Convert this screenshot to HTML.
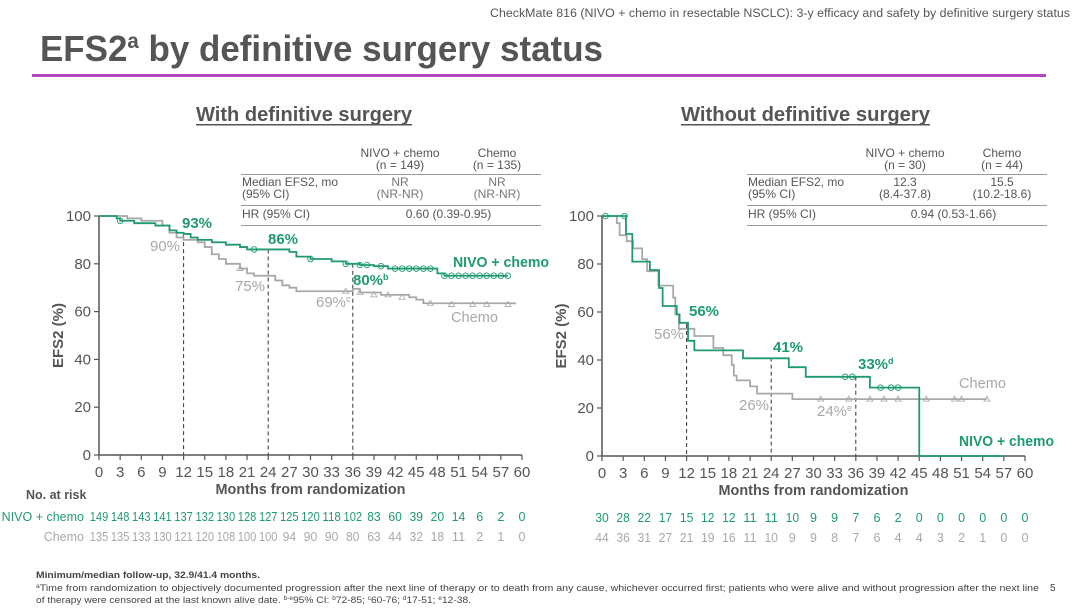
<!DOCTYPE html>
<html><head><meta charset="utf-8"><style>
html,body{margin:0;padding:0;background:#fff;}
svg{display:block;font-family:"Liberation Sans","DejaVu Sans",sans-serif;}
</style></head><body>
<svg id="s" width="1080" height="608" viewBox="0 0 1080 608" xmlns="http://www.w3.org/2000/svg">
<text x="1070" y="17" text-anchor="end" font-size="11.5" fill="#555" textLength="580" lengthAdjust="spacingAndGlyphs">CheckMate 816 (NIVO + chemo in resectable NSCLC): 3-y efficacy and safety by definitive surgery status</text>
<text x="40" y="61" font-size="36" font-weight="bold" fill="#555" textLength="563" lengthAdjust="spacingAndGlyphs">EFS2<tspan font-size="21" dy="-13">a</tspan><tspan dy="13"> by definitive surgery status</tspan></text>
<rect x="32" y="74" width="1014" height="3" fill="#b348c0"/>
<text x="196" y="121" font-size="20" font-weight="bold" fill="#555" textLength="216" lengthAdjust="spacingAndGlyphs">With definitive surgery</text>
<rect x="196" y="124" width="216" height="1.5" fill="#555"/>
<text x="681" y="121" font-size="20" font-weight="bold" fill="#555" textLength="249" lengthAdjust="spacingAndGlyphs">Without definitive surgery</text>
<rect x="681" y="124" width="249" height="1.5" fill="#555"/>
<g id="g"></g>
<text x="36" y="578" font-size="9.5" font-weight="bold" fill="#444" textLength="224" lengthAdjust="spacingAndGlyphs">Minimum/median follow-up, 32.9/41.4 months.</text>
<text x="36" y="591" font-size="9.5" fill="#444" textLength="1003" lengthAdjust="spacingAndGlyphs"><tspan font-size="6" dy="-3">a</tspan><tspan dy="3">Time from randomization to objectively documented progression after the next line of therapy or to death from any cause, whichever occurred first; patients who were alive and without progression after the next line</tspan></text>
<text x="36" y="603" font-size="9.5" fill="#444" textLength="435" lengthAdjust="spacingAndGlyphs">of therapy were censored at the last known alive date. <tspan font-size="6" dy="-3">b-e</tspan><tspan dy="3">95% CI: </tspan><tspan font-size="6" dy="-3">b</tspan><tspan dy="3">72-85; </tspan><tspan font-size="6" dy="-3">c</tspan><tspan dy="3">60-76; </tspan><tspan font-size="6" dy="-3">d</tspan><tspan dy="3">17-51; </tspan><tspan font-size="6" dy="-3">e</tspan><tspan dy="3">12-38.</tspan></text>
<text x="1050" y="591" font-size="10" fill="#444">5</text>
</svg>
<script>
var G='#1f9a70',GR='#a8a8a8',AX='#555';
var out='';
function T(x,y,t,o){o=o||{};out+='<text x="'+x+'" y="'+y+'" font-size="'+(o.fs||12)+'" fill="'+(o.c||AX)+'"'+(o.a?' text-anchor="'+o.a+'"':'')+(o.b?' font-weight="bold"':'')+(o.tl?' textLength="'+o.tl+'" lengthAdjust="spacingAndGlyphs"':'')+(o.tr?' transform="'+o.tr+'"':'')+'>'+t+'</text>';}
function L(x1,y1,x2,y2,c,w,d){out+='<line x1="'+x1+'" y1="'+y1+'" x2="'+x2+'" y2="'+y2+'" stroke="'+c+'" stroke-width="'+(w||1)+'"'+(d?' stroke-dasharray="'+d+'"':'')+'/>';}
function panel(x0,x1,y0,y1,nivo,chemo,cN,cC,dash,riskN,riskC,tab){
  var sx=function(m){return x0+(x1-x0)*m/60},sy=function(p){return y1-(y1-y0)*p/100};
  var tx=tab.x,tw=tab.w;
  T(tab.c1,157,'NIVO + chemo',{fs:12,a:'middle'});T(tab.c1,169,tab.n1,{fs:12,a:'middle'});
  T(tab.c2,157,'Chemo',{fs:12,a:'middle'});T(tab.c2,169,tab.n2,{fs:12,a:'middle'});
  L(tx,174.5,tx+tw,174.5,'#999',1);
  T(tx+1,186,'Median EFS2, mo',{fs:12});T(tx+1,198,'(95% CI)',{fs:12});
  T(tab.c1,186,tab.m1,{fs:12,a:'middle',c:tab.mc});T(tab.c1,198,tab.ci1,{fs:12,a:'middle',c:tab.mc});
  T(tab.c2,186,tab.m2,{fs:12,a:'middle',c:tab.mc});T(tab.c2,198,tab.ci2,{fs:12,a:'middle',c:tab.mc});
  L(tx,205.5,tx+tw,205.5,'#999',1);
  T(tx+1,218,'HR (95% CI)',{fs:12});T((tab.c1+tab.c2)/2,218,tab.hr,{fs:12,a:'middle'});
  L(tx,225.5,tx+tw,225.5,'#999',1);
  dash.forEach(function(d){L(sx(d[0]),sy(d[1]),sx(d[0]),y1,'#333',1,'4,3');});
  L(x0,y0,x0,y1,AX,1.5);L(x0,y1,x1,y1,AX,1.5);
  for(var p=0;p<=100;p+=20){L(x0-5,sy(p),x0,sy(p),AX,1.2);T(x0-8,sy(p)+5,p,{fs:15,a:'end'});}
  for(var m=0;m<=60;m+=3){L(sx(m),y1,sx(m),y1+5,AX,1.2);T(sx(m),y1+22,m,{fs:15,a:'middle'});}
  T((x0+x1)/2,y1+39,'Months from randomization',{fs:15,a:'middle',b:1,tl:190});
  T(x0-36,(y0+y1)/2,'EFS2 (%)',{fs:15,a:'middle',b:1,tr:'rotate(-90 '+(x0-36)+' '+((y0+y1)/2)+')'});
  function step(pts,c){var d='M'+sx(pts[0][0])+','+sy(pts[0][1]);for(var i=1;i<pts.length;i++){d+=' H'+sx(pts[i][0])+' V'+sy(pts[i][1]);}
    out+='<path d="'+d+'" fill="none" stroke="'+c+'" stroke-width="1.8"/>';}
  step(chemo,GR);step(nivo,G);
  cC.forEach(function(q){out+='<path d="M'+(sx(q[0])-3)+','+(sy(q[1])+2)+' l3,-5 l3,5z" fill="none" stroke="'+GR+'" stroke-width="0.8"/>';});
  cN.forEach(function(q){out+='<circle cx="'+sx(q[0])+'" cy="'+sy(q[1])+'" r="2.8" fill="none" stroke="'+G+'" stroke-width="0.9"/>';});
  function rk(v,i,y,c){var s=String(v);T(sx(i*3),y,s,{fs:12.5,a:'middle',c:c,tl:s.length==3?18.5:(s.length==2?13.5:null)});}
  riskN.forEach(function(v,i){rk(v,i,y1+66,G);});
  riskC.forEach(function(v,i){rk(v,i,y1+86,GR);});
}
var Ln=[[0,100],[2.5,99],[3,98],[5,97],[8,96],[10,94],[11,93],[12,92.5],[13,91],[14,90],[16,89],[18,88],[20,87],[21,86],[27,85],[28,83],[30,82],[33,81],[35,80],[37,79.5],[39,79],[41,78],[48,76],[49,75],[58,75]];
var Lc=[[0,100],[4,99],[6,98],[9,96],[10,93],[11,91],[12,90],[14,89],[15,87],[16,84],[17,82],[18,80],[20,78],[21,76],[22,75],[25,73],[26,71],[27,70],[28,68.5],[36,69.5],[37,68],[40,67],[44,66],[45,65],[46,63.5],[59,63]];
var cLn=[[3,98],[22,86],[30,82],[35,80],[37,79.5],[38,79.5],[40,79],[42,78],[43,78],[44,78],[45,78],[46,78],[47,78],[49,75],[50,75],[51,75],[52,75],[53,75],[54,75],[55,75],[56,75],[57,75],[58,75]];
var cLc=[[20,78],[35,68.5],[37,68],[39,67],[41,67],[43,66],[47,63.5],[50,63],[53,63],[55,63],[58,63]];
panel(99,522,216,455,Ln,Lc,cLn,cLc,[[12,92],[24,86],[36,80]],
 [149,148,143,141,137,132,130,128,127,125,120,118,102,83,60,39,20,14,6,2,0],
 [135,135,133,130,121,120,108,100,100,94,90,90,80,63,44,32,18,11,2,1,0],
 {x:241,w:300,c1:400,c2:497,n1:'(n = 149)',n2:'(n = 135)',m1:'NR',ci1:'(NR-NR)',m2:'NR',ci2:'(NR-NR)',mc:'#777',hr:'0.60 (0.39-0.95)'});
var Rn=[[0,100],[3.4,92.5],[4.3,81],[6.8,77.5],[8.1,70],[8.6,62.5],[10.6,59],[11,55.5],[12.2,48],[13.1,44],[20,40.7],[26.5,37],[28.9,33],[38,28.5],[45,0],[57,0]];
var Rc=[[0,100],[2.1,97],[2.5,92],[3.5,89.5],[4.4,86.5],[5.7,82],[6.4,77],[8,71],[10.1,66],[10.4,59],[10.9,53],[13.1,50],[15.8,45],[17.2,42],[18.4,38],[18.7,33.5],[19.1,31.5],[21,29],[22,26],[27,23.7],[54.6,23.7]];
var cRn=[[0.5,100],[3.2,100],[34.5,33],[35.5,33],[39.5,28.5],[41,28.5],[42,28.5]];
var cRc=[[31,23.7],[35,23.7],[38,23.7],[40,23.7],[42,23.7],[46,23.7],[50,23.7],[51,23.7],[54.6,23.7]];
panel(602,1025,216,456,Rn,Rc,cRn,cRc,[[12,55],[24,41],[36,33]],
 [30,28,22,17,15,12,12,11,11,10,9,9,7,6,2,0,0,0,0,0,0],
 [44,36,31,27,21,19,16,11,10,9,9,8,7,6,4,4,3,2,1,0,0],
 {x:747,w:300,c1:905,c2:1002,n1:'(n = 30)',n2:'(n = 44)',m1:'12.3',ci1:'(8.4-37.8)',m2:'15.5',ci2:'(10.2-18.6)',mc:'#555',hr:'0.94 (0.53-1.66)'});
T(182,228,'93%',{fs:15,b:1,c:G});T(150,251,'90%',{fs:15,c:GR});
T(268,244,'86%',{fs:15,b:1,c:G});T(235,291,'75%',{fs:15,c:GR});
T(353,285,'80%<tspan font-size="9" dy="-5">b</tspan>',{fs:15,b:1,c:G});T(316,307,'69%<tspan font-size="9" dy="-5">c</tspan>',{fs:15,c:GR});
T(453,267,'NIVO + chemo',{fs:15,b:1,c:G,tl:96});T(451,322,'Chemo',{fs:15,c:GR,tl:47});
T(689,316,'56%',{fs:15,b:1,c:G});T(654,339,'56%',{fs:15,c:GR});
T(773,352,'41%',{fs:15,b:1,c:G});T(739,410,'26%',{fs:15,c:GR});
T(858,369,'33%<tspan font-size="9" dy="-5">d</tspan>',{fs:15,b:1,c:G});T(817,416,'24%<tspan font-size="9" dy="-5">e</tspan>',{fs:15,c:GR});
T(959,388,'Chemo',{fs:15,c:GR,tl:47});T(959,446,'NIVO + chemo',{fs:15,b:1,c:G,tl:95});
T(26,499,'No. at risk',{fs:12.5,b:1,c:'#555'});
T(84,521,'NIVO + chemo',{fs:12.5,c:G,a:'end'});T(84,541,'Chemo',{fs:12.5,c:GR,a:'end'});
document.getElementById('g').innerHTML=out;
</script>
</body></html>
